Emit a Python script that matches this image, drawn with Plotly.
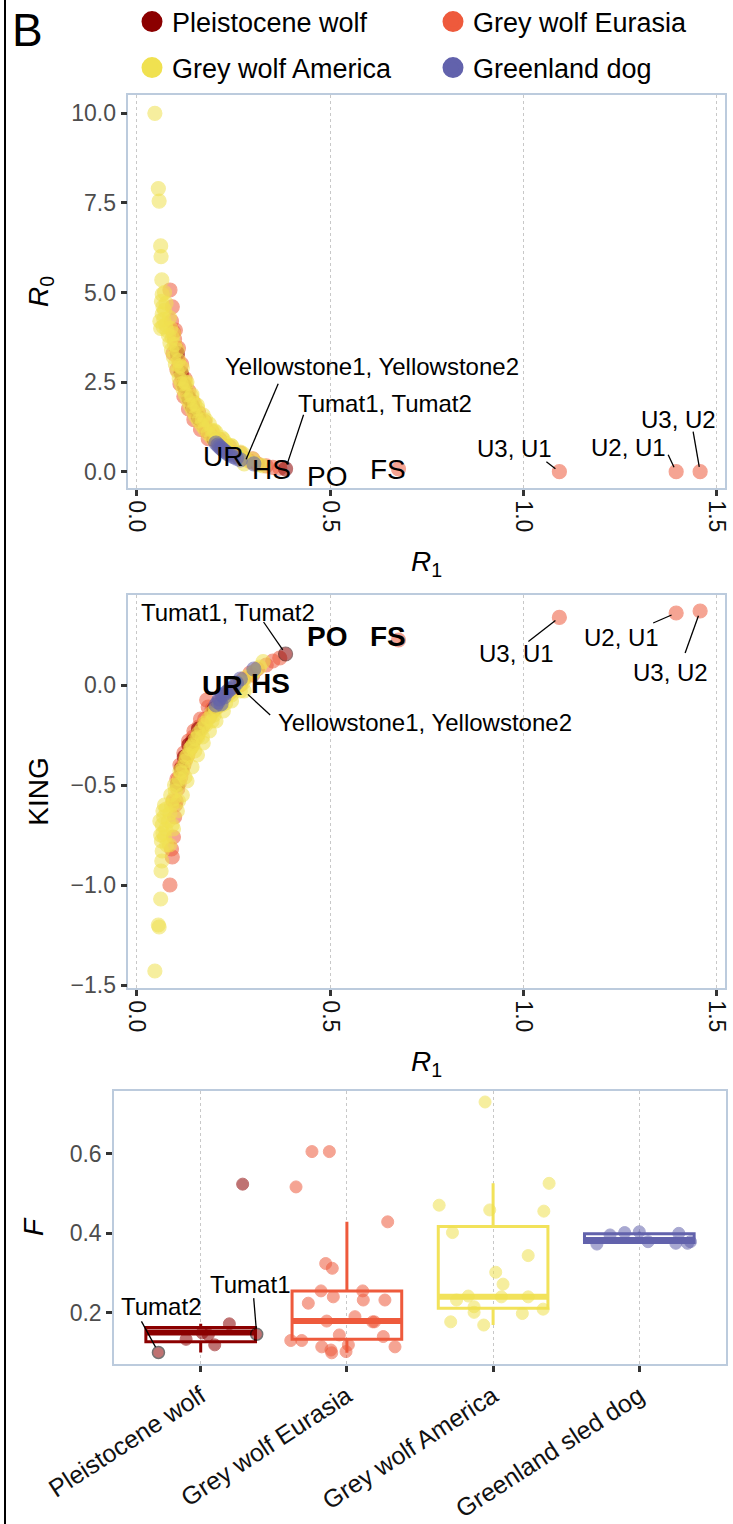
import math
import plotly.graph_objects as go

# ------------------------------------------------------------------ data
group_names = ["Pleistocene wolf", "Grey wolf Eurasia", "Grey wolf America", "Greenland dog"]
group_colors = ["#8B0000", "#EE5A3C", "#F0E150", "#6262AC"]

# pairwise relatedness (R1, R0, KING) per group
eur_r1 = [0.086, 0.090, 0.095, 0.098, 0.102, 0.106, 0.110, 0.114, 0.118, 0.122, 0.127, 0.132,
          0.138, 0.144, 0.150, 0.157, 0.165, 0.172, 0.181, 0.188, 0.198, 0.208, 0.220, 0.232,
          0.246, 0.260, 0.276, 0.293, 0.312, 0.335, 0.352, 0.370, 0.677, 1.093, 1.395, 1.457,
          0.092, 0.100, 0.108, 0.116, 0.125, 0.135, 0.146, 0.160, 0.176, 0.195, 0.215, 0.240,
          0.268, 0.300,
          0.094, 0.104, 0.112, 0.122, 0.134, 0.148, 0.165, 0.185]
eur_r0 = [5.07, 4.20, 3.90, 3.70, 3.45, 3.20, 3.00, 2.80, 2.62, 2.45, 2.30, 2.15,
          2.00, 1.85, 1.70, 1.58, 1.45, 1.32, 1.15, 1.08, 0.96, 0.85, 0.74, 0.64,
          0.54, 0.45, 0.37, 0.29, 0.22, 0.16, 0.12, 0.10, 0.08, 0.00, 0.00, 0.00,
          4.60, 3.95, 3.45, 3.00, 2.60, 2.25, 1.95, 1.65, 1.40, 1.12, 0.90, 0.70,
          0.52, 0.36,
          3.30, 2.85, 2.45, 2.10, 1.75, 1.45, 1.18, 0.92]
eur_king = [-1.00, -0.82, -0.76, -0.66, -0.58, -0.52, -0.49, -0.46, -0.43, -0.40, -0.37, -0.35,
            -0.32, -0.30, -0.27, -0.25, -0.22, -0.20, -0.075, -0.16, -0.13, -0.11, -0.08, -0.05,
            -0.03, 0.00, 0.03, 0.06, 0.08, 0.10, 0.12, 0.135, 0.225, 0.338, 0.360, 0.370,
            -0.86, -0.60, -0.47, -0.41, -0.36, -0.30, -0.26, -0.21, -0.17, -0.12, -0.08, -0.04,
            0.00, 0.05,
            -0.58, -0.47, -0.40, -0.34, -0.28, -0.23, -0.17, -0.11]

ple_r1 = [0.115, 0.123, 0.135, 0.160, 0.200, 0.385, 0.105, 0.145]
ple_r0 = [2.75, 2.40, 2.05, 1.50, 0.90, 0.08, 3.30, 1.80]
ple_king = [-0.42, -0.36, -0.30, -0.22, -0.12, 0.155, -0.50, -0.28]

ame_r1 = [0.047, 0.056, 0.058, 0.062, 0.063, 0.065, 0.066, 0.064, 0.068, 0.066, 0.070, 0.068,
          0.072, 0.075, 0.078, 0.082, 0.086, 0.090, 0.095, 0.100, 0.105, 0.110, 0.115, 0.120,
          0.126, 0.132, 0.138, 0.145, 0.152, 0.160, 0.168, 0.176, 0.185, 0.194, 0.204, 0.214,
          0.225, 0.236, 0.248, 0.260, 0.272, 0.278, 0.284, 0.305, 0.318, 0.327, 0.150, 0.125,
          0.170, 0.195, 0.108, 0.092, 0.230,
          0.072, 0.076, 0.088, 0.098, 0.112, 0.128, 0.142, 0.158, 0.178, 0.200, 0.220, 0.245,
          0.275, 0.300, 0.060, 0.062,
          0.085, 0.095, 0.105, 0.118, 0.130, 0.143, 0.157, 0.172, 0.188, 0.205, 0.224, 0.245,
          0.268]
ame_r0 = [10.0, 7.90, 7.55, 6.30, 6.00, 5.35, 4.95, 4.75, 4.60, 4.40, 4.25, 4.05,
          4.50, 4.10, 3.95, 3.80, 3.60, 3.40, 3.20, 3.00, 2.80, 2.60, 2.45, 2.30,
          2.15, 2.00, 1.85, 1.70, 1.55, 1.42, 1.30, 1.18, 1.06, 0.95, 0.85, 0.75,
          0.66, 0.58, 0.50, 0.43, 0.37, 0.22, 0.32, 0.24, 0.19, 0.16, 1.90, 2.50,
          1.45, 1.15, 3.10, 3.75, 0.80,
          5.00, 4.70, 4.00, 3.55, 2.95, 2.45, 2.10, 1.75, 1.45, 1.15, 0.95, 0.72,
          0.50, 0.35, 4.20, 4.00,
          4.30, 3.85, 3.40, 2.90, 2.50, 2.15, 1.85, 1.58, 1.33, 1.10, 0.90, 0.72,
          0.55]
ame_king = [-1.43, -1.20, -1.21, -1.07, -0.93, -0.88, -0.83, -0.78, -0.74, -0.70, -0.66, -0.63,
            -0.76, -0.72, -0.80, -0.68, -0.64, -0.60, -0.57, -0.53, -0.50, -0.47, -0.44, -0.41,
            -0.38, -0.35, -0.32, -0.30, -0.27, -0.24, -0.22, -0.19, -0.17, -0.14, -0.12, -0.10,
            -0.07, -0.05, -0.02, 0.00, 0.02, -0.03, 0.04, 0.07, 0.09, 0.117, -0.33, -0.46,
            -0.26, -0.18, -0.58, -0.70, -0.09,
            -0.60, -0.62, -0.55, -0.50, -0.43, -0.36, -0.31, -0.26, -0.20, -0.15, -0.10, -0.05,
            0.01, 0.06, -0.68, -0.75,
            -0.80, -0.72, -0.63, -0.55, -0.48, -0.41, -0.35, -0.29, -0.23, -0.18, -0.13, -0.08,
            -0.03]

grl_r1 = [0.205, 0.210, 0.214, 0.218, 0.222, 0.226, 0.230, 0.236, 0.242, 0.250, 0.258, 0.268, 0.303]
grl_r0 = [0.80, 0.74, 0.70, 0.66, 0.62, 0.58, 0.55, 0.50, 0.46, 0.42, 0.38, 0.33, 0.22]
grl_king = [-0.10, -0.085, -0.07, -0.095, -0.05, -0.06, -0.04, -0.03, -0.02, -0.01, 0.01, 0.03, 0.08]

# inbreeding F per group (value, jitter offset)
f_categories = ["Pleistocene wolf", "Grey wolf Eurasia", "Grey wolf America", "Greenland sled dog"]
ple_f = [0.524, 0.172, 0.133, 0.149, 0.144, 0.119, 0.146, 0.100]
ple_jit = [0.287, 0.196, -0.100, 0.010, 0.052, 0.096, 0.383, -0.289]
ple_ids = ["", "", "", "", "", "", "Tumat1", "Tumat2"]
eur_f = [0.606, 0.606, 0.517, 0.429, 0.324, 0.312, 0.255, 0.255, 0.240, 0.232, 0.232, 0.224, 0.190,
         0.179, 0.177, 0.177, 0.144, 0.140, 0.130, 0.130, 0.119, 0.114, 0.114, 0.106, 0.102, 0.099]
eur_jit = [-0.239, -0.120, -0.348, 0.279, -0.145, -0.100, -0.177, 0.108, -0.093, 0.112, 0.260, -0.264, 0.055,
           -0.138, 0.176, 0.189, -0.052, 0.249, -0.384, -0.309, 0.010, -0.172, 0.329, -0.109, -0.006, -0.104]
ame_f = [0.731, 0.526, 0.471, 0.459, 0.456, 0.402, 0.344, 0.302, 0.272, 0.240, 0.240, 0.242, 0.232,
         0.215, 0.201, 0.209, 0.198, 0.177, 0.169]
ame_jit = [-0.055, 0.383, -0.369, -0.023, 0.347, -0.278, 0.240, 0.018, 0.068, 0.057, 0.240, -0.170, -0.250,
           -0.130, -0.130, 0.342, 0.200, -0.290, -0.064]
grl_f = [0.373, 0.396, 0.402, 0.404, 0.379, 0.400, 0.375, 0.375, 0.379]
grl_jit = [-0.29, -0.20, -0.10, 0.00, 0.06, 0.27, 0.25, 0.33, 0.35]

# box statistics
box_q1 = [0.127, 0.133, 0.211, 0.377]
box_med = [0.150, 0.179, 0.240, 0.383]
box_q3 = [0.163, 0.255, 0.417, 0.399]
box_lo = [0.100, 0.099, 0.169, 0.373]
box_hi = [0.172, 0.429, 0.526, 0.404]

# ------------------------------------------------------------------ figure
FONT = "Liberation Sans, Arial, Helvetica, sans-serif"
W, H = 733, 1524
fig = go.Figure()

scatter_sets = [
    (1, eur_r1, eur_r0, eur_king),
    (0, ple_r1, ple_r0, ple_king),
    (2, ame_r1, ame_r0, ame_king),
    (3, grl_r1, grl_r0, grl_king),
]
for gi, r1, r0, king in scatter_sets:
    col = group_colors[gi]
    for xa, ya, yy in (("x", "y", r0), ("x2", "y2", king)):
        lc = [col] * len(r1)
        if gi == 0 and xa == "x2":
            lc[5] = "#3a0000"
        fig.add_trace(go.Scatter(
            x=r1, y=yy, mode="markers", xaxis=xa, yaxis=ya, showlegend=False,
            hoverinfo="skip",
            marker=dict(size=14, color=col, opacity=0.55, line=dict(color=lc, width=1.2))))

# legend entries (two rows -> two legends)
for k, (name, col) in enumerate(zip(group_names, group_colors)):
    fig.add_trace(go.Scatter(
        x=[None], y=[None], mode="markers", name=name, xaxis="x", yaxis="y",
        legend="legend" if k < 2 else "legend2",
        marker=dict(size=16, color=col, line=dict(color=col, width=5))))

# boxplots
box_w = 0.75
for i, col in enumerate(group_colors):
    bcol = col if i != 2 else "#F2E25A"
    fig.add_trace(go.Box(
        x=[i], q1=[box_q1[i]], median=[box_med[i]], q3=[box_q3[i]],
        lowerfence=[box_lo[i]], upperfence=[box_hi[i]], width=box_w, whiskerwidth=0,
        line=dict(color=bcol, width=3), fillcolor="rgba(255,255,255,0)",
        boxpoints=False, xaxis="x3", yaxis="y3", showlegend=False, hoverinfo="skip"))
    fig.add_trace(go.Scatter(
        x=[i - box_w / 2, i + box_w / 2], y=[box_med[i], box_med[i]], mode="lines",
        line=dict(color=bcol, width=6), xaxis="x3", yaxis="y3", showlegend=False,
        hoverinfo="skip"))

f_sets = [(0, ple_f, ple_jit), (1, eur_f, eur_jit), (2, ame_f, ame_jit), (3, grl_f, grl_jit)]
for gi, vals, jit in f_sets:
    col = group_colors[gi]
    lc = [col] * len(vals)
    lw = [1] * len(vals)
    if gi == 0:
        lc = ["black" if s else col for s in ple_ids]
        lw = [1.5 if s else 1 for s in ple_ids]
    fig.add_trace(go.Scatter(
        x=[gi + j for j in jit], y=vals, mode="markers", xaxis="x3", yaxis="y3",
        showlegend=False, hoverinfo="skip",
        marker=dict(size=12, color=col, opacity=0.55, line=dict(color=lc, width=lw))))

# ------------------------------------------------------------------ axes
border = dict(showline=True, linecolor="#BCCBDD", linewidth=1.5, mirror=True,
              ticks="outside", ticklen=6, tickwidth=2.5, tickcolor="#333333", zeroline=False,
              automargin=False)
xgrid = dict(showgrid=True, gridcolor="#C8C8C8", griddash="dot", gridwidth=1)
ytick = dict(size=23, color="#4D4D4D", family=FONT)
xtick = dict(size=23, color="#111111", family=FONT)
ttl = dict(size=28, color="black", family=FONT)


def px(v):
    return v / W


def py(v):
    return 1 - v / H


fig.update_layout(
    xaxis=dict(domain=[px(128.3), px(725)], anchor="y", range=[-0.0217, 1.5213],
               tickvals=[0, 0.5, 1.0, 1.5], tickformat=".1f", tickangle=90, tickfont=xtick,
               title=dict(text="<i>R</i><sub>1</sub>", font=ttl, standoff=20), **border, **xgrid),
    yaxis=dict(domain=[py(488), py(94.7)], anchor="x", range=[-0.455, 10.519],
               tickvals=[0, 2.5, 5, 7.5, 10], tickformat=".1f", tickfont=ytick, showgrid=False,
               title=dict(text="<i>R</i><sub>0</sub>", font=ttl, standoff=14), **border),
    xaxis2=dict(domain=[px(128.3), px(725)], anchor="y2", range=[-0.0217, 1.5213],
                tickvals=[0, 0.5, 1.0, 1.5], tickformat=".1f", tickangle=90, tickfont=xtick,
                title=dict(text="<i>R</i><sub>1</sub>", font=ttl, standoff=20), **border, **xgrid),
    yaxis2=dict(domain=[py(988), py(595)], anchor="x2", range=[-1.515, 0.45],
                tickvals=[-1.5, -1.0, -0.5, 0.0], tickformat=".1f", tickfont=ytick, showgrid=False,
                title=dict(text="KING", font=ttl, standoff=14), **border),
    xaxis3=dict(domain=[px(114), px(726)], anchor="y3", range=[-0.593, 3.593],
                tickvals=[0, 1, 2, 3], ticktext=f_categories, tickangle=-33,
                tickfont=dict(size=25, color="#111111", family=FONT), **border, **xgrid),
    yaxis3=dict(domain=[py(1364), py(1091)], anchor="x3", range=[0.0708, 0.7587],
                tickvals=[0.2, 0.4, 0.6], tickformat=".1f", tickfont=ytick, showgrid=False,
                title=dict(text="<i>F</i>", font=ttl, standoff=18), **border),
)

# ------------------------------------------------------------------ labels
ann = []
shapes = [dict(type="line", xref="paper", yref="paper", x0=px(5), x1=px(5), y0=0, y1=1,
               line=dict(color="black", width=2))]


def label(text, xr, yr, x, y, tdx, tdy, ldx, ldy, size=24, so=5):
    ann.append(dict(text=text, xref=xr, yref=yr, x=x, y=y, showarrow=False,
                    xshift=tdx, yshift=-tdy, xanchor="center", yanchor="middle",
                    font=dict(size=size, color="black", family=FONT)))
    d = math.hypot(ldx, ldy)
    ux, uy = ldx / d, ldy / d
    shapes.append(dict(type="line", xref=xr, yref=yr, xsizemode="pixel", ysizemode="pixel",
                       xanchor=x, yanchor=y, x0=ldx, y0=-ldy, x1=ux * so, y1=-uy * so,
                       line=dict(color="black", width=1.3)))


# panel 1 (R1 vs R0)
label("Yellowstone1, Yellowstone2", "x", "y", ame_r1[41], ame_r0[41], 128, -97, 34, -80)
label("Tumat1, Tumat2", "x", "y", ple_r1[5], ple_r0[5], 99, -65, 18, -54)
label("U3, U1", "x", "y", eur_r1[33], eur_r0[33], -45, -23, -13, -10)
label("U2, U1", "x", "y", eur_r1[34], eur_r0[34], -48, -24, -8, -17)
label("U3, U2", "x", "y", eur_r1[35], eur_r0[35], -22, -52, -7, -40)
# panel 2 (R1 vs KING)
label("Yellowstone1, Yellowstone2", "x2", "y2", ame_r1[41], ame_king[41], 181, 31, 26, 24)
label("Tumat1, Tumat2", "x2", "y2", ple_r1[5], ple_king[5], -58, -42, -22, -32)
label("U3, U1", "x2", "y2", eur_r1[33], eur_king[33], -43, 36, -31, 24)
label("U2, U1", "x2", "y2", eur_r1[34], eur_king[34], -55, 24, -23, 10)
label("U3, U2", "x2", "y2", eur_r1[35], eur_king[35], -30, 61, -15, 42)
# panel 3 (F)
label("Tumat1", "x3", "y3", ple_jit[6], ple_f[6], -7, -50, -3, -36, so=6)
label("Tumat2", "x3", "y3", ple_jit[7], ple_f[7], 3, -46, -17, -31, so=6)

# population labels
grp_txt = ["UR", "HS", "PO", "FS"]
grp_p1 = [(0.223, 0.42), (0.349, 0.05), (0.491, -0.14), (0.650, 0.05)]
grp_p2 = [(0.220, 0.0), (0.345, 0.01), (0.493, 0.2415), (0.651, 0.2415)]
for t, (gx, gy) in zip(grp_txt, grp_p1):
    ann.append(dict(text=t, xref="x", yref="y", x=gx, y=gy, showarrow=False,
                    font=dict(size=28, color="black", family=FONT)))
for t, (gx, gy) in zip(grp_txt, grp_p2):
    ann.append(dict(text="<b>" + t + "</b>", xref="x2", yref="y2", x=gx, y=gy, showarrow=False,
                    font=dict(size=28, color="black", family=FONT)))

ann.append(dict(text="B", xref="paper", yref="paper", x=px(10), y=py(2), xanchor="left",
                yanchor="top", showarrow=False, font=dict(size=46, color="black", family=FONT)))

leg_common = dict(orientation="h", xanchor="left", yanchor="middle",
                  font=dict(size=27, color="black", family=FONT), entrywidth=256,
                  entrywidthmode="pixels", bgcolor="rgba(0,0,0,0)", traceorder="normal")

fig.update_layout(
    annotations=ann,
    shapes=shapes,
    width=W, height=H, margin=dict(l=0, r=0, t=0, b=0, autoexpand=False),
    paper_bgcolor="white", plot_bgcolor="white",
    font=dict(family=FONT, color="black"),
    legend=dict(x=px(132), y=py(22), **leg_common),
    legend2=dict(x=px(132), y=py(68), **leg_common),
)

fig.write_html("out.html",
               config={"displayModeBar": False},
               post_script="document.body.style.margin='0px';document.body.style.overflow='hidden';")
